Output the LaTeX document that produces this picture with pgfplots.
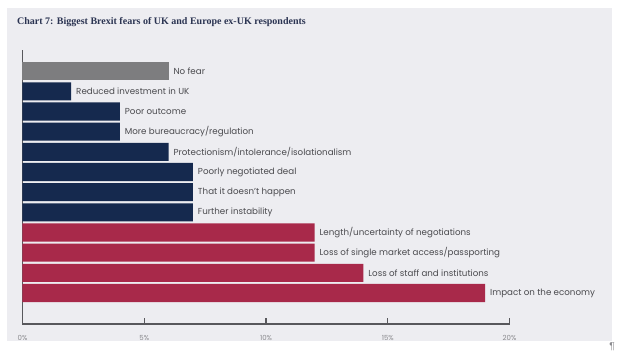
\documentclass[border=0pt]{standalone}
\usepackage{fontspec}
\setmainfont{Poppins}
\newfontfamily\titlefont{Liberation Serif}
\newfontfamily\pilcrowfont{Liberation Sans}
\usepackage{pgfplots}
\pgfplotsset{compat=1.18}
\definecolor{bg}{HTML}{EDEDF1}
\definecolor{navybar}{HTML}{15294E}
\definecolor{redbar}{HTML}{A8294A}
\definecolor{greybar}{HTML}{7D7D7F}
\definecolor{axisgrey}{HTML}{58585C}
\definecolor{labeltext}{HTML}{4A4A4E}
\definecolor{ticktext}{HTML}{8A8A8E}
\definecolor{titlecol}{HTML}{2B3452}
\begin{document}
\begin{tikzpicture}
\path[use as bounding box] (0,0) rectangle (625pt,363pt);
\fill[bg] (7pt,22pt) rectangle (612pt,355pt);
\node[anchor=west, inner sep=0pt, text=titlecol, font=\titlefont\bfseries\fontsize{10}{12}\selectfont] at (17pt,341pt) {Chart 7: Biggest Brexit fears of UK and Europe ex-UK respondents};
\node[anchor=center, inner sep=0pt, text=ticktext, font=\pilcrowfont\fontsize{10}{12}\selectfont] at (612pt,16pt) {¶};
\begin{axis}[
  at={(22.5pt,39pt)}, anchor=south west,
  scale only axis, width=487pt, height=274pt,
  xmin=0, xmax=20, ymin=-0.537, ymax=13.05,
  xbar, bar width=0.9,
  axis x line*=bottom, axis y line*=left,
  axis line style={-, draw=axisgrey, line width=1.2pt},
  ytick=\empty,
  xtick={0,5,10,15,20},
  xticklabels={0\%,5\%,10\%,15\%,20\%},
  xtick align=inside,
  major tick length=6pt,
  xtick style={draw=axisgrey, line width=1.3pt},
  xticklabel style={font=\fontsize{7}{8}\selectfont, text=ticktext, yshift=-8pt},
  clip=false,
  point meta=explicit symbolic,
  nodes near coords,
  nodes near coords align={horizontal},
  nodes near coords style={font=\fontsize{8.7}{10}\selectfont, text=labeltext, anchor=west, xshift=1.5pt},
]
\addplot[fill=greybar, draw=none, bar shift=0pt] coordinates {(6,12) [No fear]};
\addplot[fill=navybar, draw=none, bar shift=0pt] coordinates {
(2,11) [Reduced investment in UK]
(4,10) [Poor outcome]
(4,9) [More bureaucracy/regulation]
(6,8) [Protectionism/intolerance/isolationalism]
(7,7) [Poorly negotiated deal]
(7,6) [That it doesn’t happen]
(7,5) [Further instability]
};
\addplot[fill=redbar, draw=none, bar shift=0pt] coordinates {
(12,4) [Length/uncertainty of negotiations]
(12,3) [Loss of single market access/passporting]
(14,2) [Loss of staff and institutions]
(19,1) [Impact on the economy]
};
\draw[axisgrey, line width=1.3pt] (axis cs:5,-0.537) -- ++(0pt,6pt);
\draw[axisgrey, line width=1.3pt] (axis cs:10,-0.537) -- ++(0pt,6pt);
\draw[axisgrey, line width=1.3pt] (axis cs:15,-0.537) -- ++(0pt,6pt);
\draw[axisgrey, line width=1.3pt] (axis cs:20,-0.537) -- ++(0pt,6pt);
\end{axis}
\end{tikzpicture}
\end{document}
